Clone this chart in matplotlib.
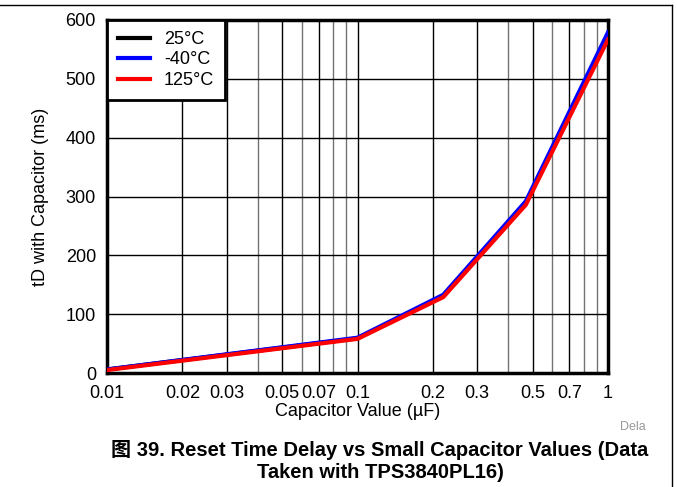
import matplotlib
matplotlib.use("Agg")
import matplotlib.pyplot as plt
from matplotlib.lines import Line2D
from matplotlib.ticker import FixedLocator, NullFormatter

plt.rcParams['font.family'] = ['Liberation Sans', 'Noto Sans CJK SC', 'DejaVu Sans']

# data
cap_uf = [0.01, 0.1, 0.22, 0.47, 1.0]
td_25c = [6, 59, 131, 289, 573]
td_m40c = [6, 60, 133, 292, 579]
td_125c = [5, 58, 129, 286, 567]

xticks = [0.01, 0.02, 0.03, 0.05, 0.07, 0.1, 0.2, 0.3, 0.5, 0.7, 1]
xticklabels = ['0.01', '0.02', '0.03', '0.05', '0.07', '0.1', '0.2', '0.3', '0.5', '0.7', '1']
xminor = [0.04, 0.06, 0.08, 0.09, 0.4, 0.6, 0.8, 0.9]
yticks = [0, 100, 200, 300, 400, 500, 600]

fig = plt.figure(figsize=(6.77, 4.87), dpi=100)
ax = fig.add_axes([107 / 677, 1 - 373 / 487, 501 / 677, 353 / 487])

ax.plot(cap_uf, td_25c, color='black', lw=3, label='25°C', zorder=3)
ax.plot(cap_uf, td_m40c, color='#0000ff', lw=3, label='-40°C', zorder=4)
ax.plot(cap_uf, td_125c, color='#ff0000', lw=3, label='125°C', zorder=5)

ax.set_xscale('log')
ax.set_xlim(0.01, 1)
ax.set_ylim(0, 600)
ax.xaxis.set_major_locator(FixedLocator(xticks))
ax.set_xticklabels(xticklabels)
ax.xaxis.set_minor_locator(FixedLocator(xminor))
ax.xaxis.set_minor_formatter(NullFormatter())
ax.set_yticks(yticks)
ax.tick_params(which='both', length=0, labelsize=13)
ax.tick_params(axis='x', pad=9)
ax.tick_params(axis='y', pad=8)

ax.grid(True, which='major', axis='both', color='black', lw=1)
ax.grid(True, which='minor', axis='x', color='0.45', lw=1)
ax.set_axisbelow(True)
for sp in ax.spines.values():
    sp.set_linewidth(2.5)

ax.set_xlabel('Capacitor Value (µF)', fontsize=13, labelpad=0)
ax.set_ylabel('tD with Capacitor (ms)', fontsize=13, labelpad=12)

leg = ax.legend(loc='upper left', bbox_to_anchor=(0, 1), borderaxespad=0,
                fontsize=13, frameon=True, fancybox=False, handlelength=1.8,
                labelspacing=0.2, borderpad=0.6, handletextpad=0.75)
leg.get_frame().set_edgecolor('black')
leg.get_frame().set_linewidth(2)
leg.get_frame().set_alpha(1)
for h in leg.get_lines():
    h.set_linewidth(3)

fig.text(620 / 677, 1 - 427 / 487, 'Dela', fontsize=9, color='0.6', ha='left', va='center')
fig.text(380 / 677, 1 - 461 / 487,
         '图 39. Reset Time Delay vs Small Capacitor Values (Data\nTaken with TPS3840PL16)',
         fontsize=14.5, fontweight='bold', ha='center', va='center', linespacing=1.2)

# page border lines
fig.add_artist(Line2D([0, 672 / 677], [1 - 5 / 487, 1 - 5 / 487], color='black', lw=1))
fig.add_artist(Line2D([672 / 677, 672 / 677], [1 - 5 / 487, 0], color='black', lw=1))

fig.savefig('out.png', dpi=100)
